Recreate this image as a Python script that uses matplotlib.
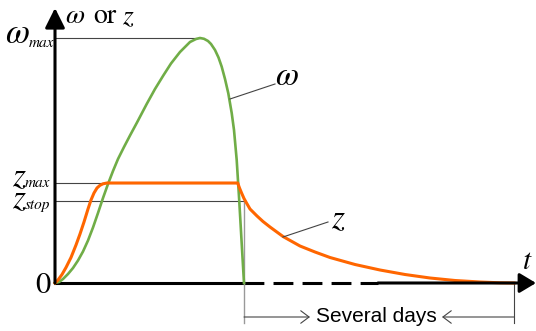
import matplotlib
matplotlib.use("Agg")
import matplotlib.pyplot as plt

# values (arbitrary units)
w_max = 24.5
z_max = 10.0
z_stop = 8.2
t_stop = 18.9
t_end = 45.9

t_w = [0, 0.4, 0.8, 1.3, 1.8, 2.3, 2.8, 3.3, 3.8, 4.3, 4.8, 5.3, 5.8, 6.3,
       6.9, 7.5, 8.2, 9.17, 10.0, 10.83, 11.6, 12.5, 13.5, 14.1, 14.5, 14.9,
       15.3, 15.6, 16.0, 16.35, 16.67, 17.0, 17.33, 17.67, 17.9, 18.17, 18.42,
       18.65, 18.9]
w = [0, 0.1, 0.4, 0.9, 1.5, 2.25, 3.15, 4.25, 5.55, 7.0, 8.5, 9.9, 11.2, 12.4,
     13.6, 14.75, 16.05, 17.9, 19.4, 20.75, 21.95, 23.1, 24.1, 24.4, 24.5, 24.42,
     24.2, 23.9, 23.3, 22.55, 21.63, 20.4, 18.97, 17.0, 15.3, 12.3, 8.3,
     4.3, 0]

t_z = [0, 0.3, 0.7, 1.1, 1.6, 2.1, 2.5, 2.9, 3.3, 3.6, 3.9, 4.2, 4.5, 4.8,
       5.2, 18.27, 18.45, 18.67, 18.9, 19.17, 19.5, 20.2, 20.8, 21.5, 22.8,
       24.5, 26.0, 27.5, 30.0, 32.5, 35.0, 37.5, 40.0, 42.5, 44.5, 45.9]
z = [0, 0.3, 0.85, 1.55, 2.55, 3.8, 4.9, 6.1, 7.4, 8.3, 9.0, 9.5, 9.77, 9.92,
     10.0, 10.0, 9.5, 8.97, 8.45, 7.97, 7.4, 6.7, 6.15, 5.6, 4.65,
     3.7, 3.1, 2.55, 1.85, 1.3, 0.85, 0.5, 0.25, 0.1, 0.02, 0]

green = '#70ad47'
orange = '#ff6600'
grey = '#444444'
light = '#999999'
serif = 'STIXGeneral'

fig = plt.figure(figsize=(5.36, 3.31), dpi=100)
ax = fig.add_axes([0, 0, 1, 1])
ax.set_xlim(-5.5, 48.1)
ax.set_ylim(-4.8, 28.3)
ax.axis('off')

# guide lines
ax.plot([0, 14.5], [w_max, w_max], color=grey, lw=0.8)
ax.plot([0, 18.3], [z_max, z_max], color=grey, lw=0.8)
ax.plot([0, t_stop], [z_stop, z_stop], color=grey, lw=0.8)
ax.plot([t_stop, t_stop], [z_stop, -4.0], color=light, lw=1.0)
ax.plot([t_end, t_end], [0, -4.0], color=grey, lw=0.8)

# curves
ax.plot(t_w, w, color=green, lw=1.9, solid_joinstyle='round')
ax.plot(t_z, z, color=orange, lw=2.2, solid_joinstyle='round')

# axes
ax.plot([0, t_stop], [0, 0], color='k', lw=2.2, zorder=1)
ax.plot([t_stop, 32.3], [0, 0], color='k', lw=2.2, dashes=[6.5, 3], zorder=1)
ax.annotate('', xy=(48.1, 0), xytext=(32.3, 0),
            arrowprops=dict(arrowstyle='-|>,head_length=1.0,head_width=0.6',
                            color='k', lw=2.2, shrinkA=0, shrinkB=0))
ax.annotate('', xy=(0, 27.5), xytext=(0, 0),
            arrowprops=dict(arrowstyle='-|>,head_length=1.2,head_width=0.6',
                            color='k', lw=2.2, shrinkA=0, shrinkB=0))

# span arrows
ax.annotate('', xy=(25.5, -3.4), xytext=(t_stop, -3.4),
            arrowprops=dict(arrowstyle='->,head_length=0.6,head_width=0.45',
                            color=grey, lw=0.8, shrinkA=0, shrinkB=0))
ax.annotate('', xy=(38.7, -3.4), xytext=(t_end, -3.4),
            arrowprops=dict(arrowstyle='->,head_length=0.6,head_width=0.45',
                            color=grey, lw=0.8, shrinkA=0, shrinkB=0))
ax.text(32.1, -3.3, 'Several days', family='Liberation Sans', fontsize=15,
        ha='center', va='center')

# leader lines
ax.plot([17.5, 22.0], [18.4, 19.9], color=grey, lw=0.8)
ax.plot([22.8, 27.3], [4.6, 6.1], color=grey, lw=0.8)

# labels
it = dict(family=serif, fontstyle='italic')
ax.text(23.2, 20.6, 'ω', fontsize=24, ha='center', va='center', **it)
ax.text(28.3, 6.4, 'z', fontsize=24, ha='center', va='center', **it)
ax.text(47.2, 2.1, 't', fontsize=21, ha='center', va='center', **it)

ax.text(-2.6, 24.0, 'ω', fontsize=25, ha='right', va='baseline', **it)
ax.text(-2.6, 23.6, 'max', fontsize=11, ha='left', va='baseline', **it)
ax.text(-3.0, 9.8, 'z', fontsize=24, ha='right', va='baseline', **it)
ax.text(-3.0, 9.6, 'max', fontsize=11, ha='left', va='baseline', **it)
ax.text(-3.0, 7.6, 'z', fontsize=24, ha='right', va='baseline', **it)
ax.text(-3.0, 7.4, 'stop', fontsize=11, ha='left', va='baseline', **it)
ax.text(-0.4, -0.3, '0', fontsize=22, family=serif, ha='right', va='center')

ax.text(1.0, 26.0, 'ω', fontsize=20, ha='left', va='baseline', **it)
ax.text(3.8, 26.0, 'or', fontsize=20, family=serif, ha='left', va='baseline')
ax.text(6.7, 26.0, 'z', fontsize=20, ha='left', va='baseline', **it)

fig.savefig('out.png', dpi=100)
